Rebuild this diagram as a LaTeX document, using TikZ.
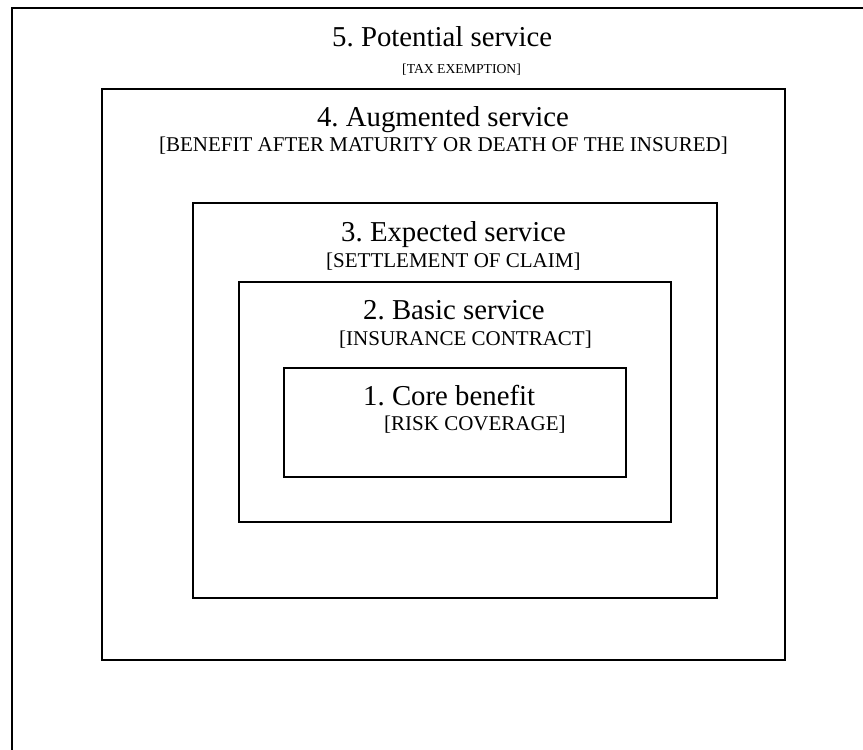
\documentclass[tikz,border=0pt]{standalone}
\usepackage{fontspec}
\setmainfont{Liberation Serif}
\frenchspacing
\begin{document}
\begin{tikzpicture}[x=1pt,y=-1pt,
  layer/.style={draw=black,line width=1.5pt},
  head/.style={inner sep=0pt,anchor=base west,font=\frenchspacing\fontsize{28.8}{30}\selectfont},
  sub/.style={inner sep=0pt,anchor=base west,font=\frenchspacing\fontsize{21}{23}\selectfont},
  subsmall/.style={inner sep=0pt,anchor=base west,font=\frenchspacing\fontsize{13.7}{15}\selectfont}]
\useasboundingbox (0,0) rectangle (863,750);
\clip (0,0) rectangle (863,750);
\fill[white] (0,0) rectangle (863,750);
% layers
\draw[layer,line width=1.8pt] (12,8) rectangle (900,800);
\draw[layer] (102,89) rectangle (785,660);
\draw[layer] (193,203) rectangle (717,598);
\draw[layer] (239,282) rectangle (671,522);
\draw[layer] (284,368) rectangle (626,477);
% texts
\node[head] (h5) at (332,46) {5. Potential service};
\node[subsmall] (s5) at (402,73) {[TAX EXEMPTION]};
\node[head,anchor=base] (h4) at (443,126) {4. Augmented service};
\node[sub,anchor=base] (s4) at (443.5,151) {[BENEFIT AFTER MATURITY OR DEATH OF THE INSURED]};
\node[head] (h3) at (341,241) {3. Expected service};
\node[sub] (s3) at (326,267) {[SETTLEMENT OF CLAIM]};
\node[head] (h2) at (363,319) {2. Basic service};
\node[sub] (s2) at (339,345) {[INSURANCE CONTRACT]};
\node[head] (h1) at (363,405) {1. Core benefit};
\node[sub] (s1) at (384,430) {[RISK COVERAGE]};
\end{tikzpicture}
\end{document}
